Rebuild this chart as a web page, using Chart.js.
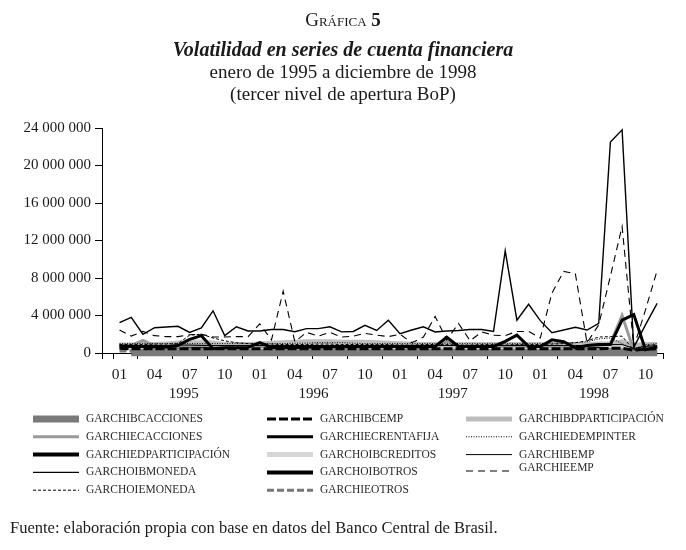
<!DOCTYPE html>
<html>
<head>
<meta charset="utf-8">
<script src="https://cdn.jsdelivr.net/npm/chart.js@4.4.1/dist/chart.umd.min.js"></script>
<style>
  body { margin: 0; background: #fff; font-family: "Liberation Serif", serif; color: #1a1a1a; }
  #wrap { position: relative; width: 686px; height: 550px; }
  canvas { position: absolute; left: 0; top: 0; }
  .t { position: absolute; left: 0; width: 686px; text-align: center; line-height: 22px; white-space: nowrap; }
  #t1 { top: 9px; font-size: 19px; font-variant: small-caps; }
  #t2 { top: 38px; font-size: 20px; font-weight: bold; font-style: italic; }
  #t3 { top: 61px; font-size: 19px; }
  #t4 { top: 83px; font-size: 19px; }
  #fuente { position: absolute; left: 10px; top: 517px; font-size: 16.5px; line-height: 22px; white-space: nowrap; }
</style>
</head>
<body>
<div id="wrap">
  <canvas id="myChart" width="686" height="550"></canvas>
  <div class="t" id="t1">Gráfica <b>5</b></div>
  <div class="t" id="t2">Volatilidad en series de cuenta financiera</div>
  <div class="t" id="t3">enero de 1995 a diciembre de 1998</div>
  <div class="t" id="t4">(tercer nivel de apertura BoP)</div>
  <div id="fuente">Fuente: elaboración propia con base en datos del Banco Central de Brasil.</div>
</div>
<script>
// meses, enero 1995 - noviembre 1998
var periodos = [
  '1995-01','1995-02','1995-03','1995-04','1995-05','1995-06','1995-07','1995-08','1995-09','1995-10','1995-11','1995-12',
  '1996-01','1996-02','1996-03','1996-04','1996-05','1996-06','1996-07','1996-08','1996-09','1996-10','1996-11','1996-12',
  '1997-01','1997-02','1997-03','1997-04','1997-05','1997-06','1997-07','1997-08','1997-09','1997-10','1997-11','1997-12',
  '1998-01','1998-02','1998-03','1998-04','1998-05','1998-06','1998-07','1998-08','1998-09','1998-10','1998-11'
];
var anios = ['1995', '1996', '1997', '1998'];
var posAnios = [5.5, 16.6, 28.5, 40.6];

// valores en millones
var garchibcacciones = [null,0.02,0.02,0.02,0.02,0.02,0.02,0.02,0.02,0.02,0.02,0.02,
  0.02,0.02,0.02,0.02,0.02,0.02,0.02,0.02,0.02,0.02,0.02,0.02,
  0.02,0.02,0.02,0.02,0.02,0.02,0.02,0.02,0.02,0.02,0.02,0.02,
  0.02,0.02,0.02,0.02,0.02,0.02,0.02,0.02,0.02,0.02,0.02];
var garchiecacciones = [0.7,0.8,1.35,0.75,0.7,0.7,0.75,0.8,0.7,0.7,0.7,0.7,
  0.7,0.7,0.7,0.7,0.7,0.7,0.7,0.7,0.7,0.7,0.7,0.7,
  0.7,0.7,0.7,0.75,1.35,0.7,0.7,0.7,0.7,0.7,0.8,0.7,
  0.7,0.7,0.7,0.7,0.7,0.8,1.0,4.0,0.3,0.6,0.7];
var garchiedparticipacion = [0.7,0.7,0.7,0.7,0.7,0.7,0.7,0.7,0.7,0.7,0.7,0.7,
  0.7,0.7,0.7,0.7,0.7,0.7,0.7,0.7,0.7,0.7,0.7,0.7,
  0.7,0.7,0.7,0.7,0.7,0.7,0.7,0.7,0.7,0.7,0.7,0.7,
  0.7,0.7,0.7,0.7,0.7,0.7,0.7,0.7,0.3,0.6,0.7];
var garchoibmoneda = [3.25,3.8,2.0,2.7,2.77,2.85,2.2,2.67,4.5,1.85,2.8,2.35,
  2.35,2.5,2.5,2.27,2.6,2.6,2.8,2.25,2.3,2.95,2.4,3.5,
  2.05,2.45,2.8,2.24,2.35,2.4,2.5,2.5,2.3,10.9,3.5,5.2,
  3.45,2.17,2.45,2.74,2.45,3.17,22.5,23.8,0.6,3.0,5.3];
var garchoiemoneda = [0.9,0.9,0.9,0.95,0.95,1.0,1.9,2.0,1.6,1.3,1.1,1.0,
  0.95,0.95,0.9,0.9,0.9,0.95,0.95,0.9,0.9,0.9,0.9,0.9,
  0.85,0.85,0.9,0.9,0.9,0.85,0.85,0.9,0.9,0.85,0.9,0.9,
  0.9,0.95,1.0,1.1,1.3,1.7,1.75,1.8,0.3,0.8,0.9];
var garchibcemp = [0.5,0.45,0.45,0.45,0.45,0.45,0.45,0.45,0.45,0.45,0.45,0.45,
  0.45,0.45,0.45,0.45,0.45,0.45,0.45,0.45,0.45,0.45,0.45,0.45,
  0.45,0.45,0.45,0.45,0.45,0.45,0.45,0.45,0.45,0.45,0.45,0.45,
  0.45,0.45,0.45,0.45,0.45,0.45,0.5,0.5,0.3,0.4,0.45];
var garchiecrentafija = [0.75,0.7,0.7,0.65,0.65,0.8,1.45,1.85,0.45,0.55,0.55,0.6,
  1.1,0.6,0.6,0.6,0.65,0.65,0.7,0.7,0.7,0.7,0.7,0.7,
  0.7,0.65,0.65,0.7,1.7,0.7,0.7,0.7,0.7,1.25,1.9,0.7,
  0.7,1.4,1.2,0.55,0.8,0.9,0.9,3.5,4.1,0.35,0.65];
var garchoibcreditos = [0.6,0.6,0.65,0.7,0.9,1.1,1.25,1.2,1.1,0.9,0.8,0.75,
  0.7,0.7,0.75,0.8,0.8,0.8,0.8,0.8,0.8,0.75,0.75,0.7,
  0.7,0.7,0.7,0.7,0.75,0.7,0.7,0.7,0.7,0.7,0.75,0.7,
  0.7,0.7,0.75,0.8,0.9,0.9,0.8,0.75,0.7,0.8,0.8];
var garchoibotros = [null,0.03,0.03,0.03,0.03,0.03,0.03,0.03,0.03,0.03,0.03,0.03,
  0.03,0.03,0.03,0.03,0.03,0.03,0.03,0.03,0.03,0.03,0.03,0.03,
  0.03,0.03,0.03,0.03,0.03,0.03,0.03,0.03,0.03,0.03,0.03,0.03,
  0.03,0.03,0.03,0.03,0.03,0.03,0.03,0.03,0.03,0.03,0.03];
var garchieotros = [0.22,0.22,0.22,0.22,0.22,0.22,0.22,0.22,0.22,0.22,0.22,0.22,
  0.22,0.22,0.22,0.22,0.22,0.22,0.22,0.22,0.22,0.22,0.22,0.22,
  0.22,0.22,0.22,0.22,0.22,0.22,0.22,0.22,0.22,0.22,0.22,0.22,
  0.22,0.22,0.22,0.22,0.22,0.22,0.22,0.22,0.22,0.22,0.22];
var garchibdparticipacion = [0.85,0.85,0.9,0.9,0.95,1.0,1.05,1.0,0.95,0.9,0.9,0.9,
  0.95,1.05,1.1,1.15,1.2,1.2,1.2,1.15,1.15,1.15,1.1,1.05,
  1.0,0.95,0.9,0.9,0.9,0.9,0.9,0.9,0.9,0.9,0.9,0.9,
  0.9,0.9,0.9,0.9,0.9,0.95,1.0,1.2,0.8,0.9,0.9];
var garchiedempinter = [1.0,1.0,1.0,1.0,1.0,1.05,1.0,1.0,1.0,1.0,1.0,1.0,
  1.0,1.0,1.0,1.05,1.05,1.1,1.1,1.1,1.05,1.0,1.0,1.0,
  1.0,1.0,1.0,1.0,1.05,1.0,1.0,1.0,1.0,1.0,1.0,1.0,
  1.0,1.05,1.05,1.1,1.2,1.5,1.6,1.0,0.4,0.9,1.0];
var garchibemp = [0.8,0.8,0.8,0.8,0.8,0.85,0.85,0.8,0.8,0.8,0.8,0.8,
  0.8,0.8,0.8,0.8,0.8,0.8,0.8,0.8,0.8,0.8,0.8,0.8,
  0.8,0.8,0.8,0.8,0.8,0.8,0.8,0.8,0.8,0.8,0.8,0.8,
  0.8,0.8,0.8,0.8,0.8,0.85,0.9,0.9,0.5,0.7,0.8];
var garchieemp = [2.45,1.8,2.3,1.85,1.75,1.75,1.95,2.0,1.7,1.7,1.75,1.75,
  3.1,1.4,6.6,1.2,2.2,1.8,2.2,1.7,1.8,2.1,1.9,1.75,
  2.0,1.1,1.7,3.9,1.4,3.15,1.3,2.25,1.9,1.85,2.3,2.3,
  1.6,6.4,8.7,8.45,1.1,3.0,8.2,13.5,0.6,4.6,8.8];

// estilos, en el orden de la leyenda (por columnas)
var series = [
  { label: 'GARCHIBCACCIONES',      data: garchibcacciones,      color: '#7a7a7a', width: 7,   dash: [],     order: 8,  col: 0, row: 0 },
  { label: 'GARCHIECACCIONES',      data: garchiecacciones,      color: '#9a9a9a', width: 3,   dash: [],     order: 6,  col: 0, row: 1 },
  { label: 'GARCHIEDPARTICIPACIÓN', data: garchiedparticipacion, color: '#000',    width: 4,   dash: [],     order: 13, col: 0, row: 2 },
  { label: 'GARCHOIBMONEDA',        data: garchoibmoneda,        color: '#000',    width: 1.4, dash: [],     order: 0,  col: 0, row: 3 },
  { label: 'GARCHOIEMONEDA',        data: garchoiemoneda,        color: '#000',    width: 1,   dash: [3, 2], order: 2,  col: 0, row: 4 },
  { label: 'GARCHIBCEMP',           data: garchibcemp,           color: '#000',    width: 3,   dash: [9, 3], order: 5,  col: 1, row: 0 },
  { label: 'GARCHIECRENTAFIJA',     data: garchiecrentafija,     color: '#000',    width: 3,   dash: [],     order: 4,  col: 1, row: 1 },
  { label: 'GARCHOIBCREDITOS',      data: garchoibcreditos,      color: '#d6d6d6', width: 5,   dash: [],     order: 11, col: 1, row: 2 },
  { label: 'GARCHOIBOTROS',         data: garchoibotros,         color: '#000',    width: 4,   dash: [],     order: 12, col: 1, row: 3 },
  { label: 'GARCHIEOTROS',          data: garchieotros,          color: '#777',    width: 3,   dash: [7, 3], order: 9,  col: 1, row: 4 },
  { label: 'GARCHIBDPARTICIPACIÓN', data: garchibdparticipacion, color: '#bdbdbd', width: 5,   dash: [],     order: 10, col: 2, row: 0 },
  { label: 'GARCHIEDEMPINTER',      data: garchiedempinter,      color: '#000',    width: 1,   dash: [1, 1.5], order: 3, col: 2, row: 1 },
  { label: 'GARCHIBEMP',            data: garchibemp,            color: '#000',    width: 1,   dash: [],     order: 3,  col: 2, row: 2 },
  { label: 'GARCHIEEMP',            data: garchieemp,            color: '#000',    width: 1.1, dash: [7, 5], order: 1,  col: 2, row: 2.75 }
];

var datasets = series.map(function (s) {
  return {
    label: s.label,
    data: s.data.map(function (v, i) { return { x: i, y: v }; }),
    borderColor: s.color,
    borderWidth: s.width,
    borderDash: s.dash,
    order: s.order,
    clip: 10,
    pointRadius: 0,
    tension: 0,
    fill: false
  };
});

var fmt = function (v) {
  return String(Math.round(v * 1000000)).replace(/\B(?=(\d{3})+(?!\d))/g, ' ');
};

var leyenda = {
  id: 'leyenda',
  afterDraw: function (chart) {
    var ctx = chart.ctx;
    var colX = [33, 267, 466];
    ctx.save();
    series.forEach(function (s) {
      var x = colX[s.col];
      var y = 419 + s.row * 17.8;
      var ly = s.label === 'GARCHIEEMP' ? y + 3 : y;
      ctx.beginPath();
      ctx.strokeStyle = s.color;
      ctx.lineWidth = s.width;
      ctx.setLineDash(s.dash);
      ctx.moveTo(x, ly);
      ctx.lineTo(x + 46, ly);
      ctx.stroke();
      ctx.setLineDash([]);
      ctx.fillStyle = '#2a2a2a';
      ctx.font = '11.5px "Liberation Serif"';
      ctx.textBaseline = 'middle';
      ctx.textAlign = 'left';
      ctx.fillText(s.label, x + 53, y);
    });
    // años bajo los meses
    var xs = chart.scales.x;
    ctx.fillStyle = '#1a1a1a';
    ctx.font = '15px "Liberation Serif"';
    ctx.textAlign = 'center';
    anios.forEach(function (a, i) {
      ctx.fillText(a, xs.getPixelForValue(posAnios[i]), 394);
    });
    ctx.restore();
  }
};

Chart.defaults.font.family = '"Liberation Serif", serif';
Chart.defaults.color = '#1a1a1a';

var ctx = document.getElementById('myChart').getContext('2d');
var chart = new Chart(ctx, {
  type: 'line',
  data: { datasets: datasets },
  options: {
    responsive: false,
    animation: false,
    layout: { padding: { top: 128, right: 23, bottom: 157, left: 0 } },
    plugins: { legend: { display: false }, tooltip: { enabled: false } },
    scales: {
      x: {
        type: 'linear',
        min: -1.5,
        max: 46.5,
        afterBuildTicks: function (scale) {
          var vals = [-1.5, -0.5];
          for (var b = 1.5; b <= 46.5; b += 3) vals.push(b);
          for (var m = 0; m < periodos.length; m += 3) vals.push(m);
          vals.sort(function (a, b) { return a - b; });
          scale.ticks = vals.map(function (v) { return { value: v }; });
        },
        afterFit: function (scale) { scale.height = 40; },
        ticks: {
          autoSkip: false,
          maxRotation: 0,
          padding: 7,
          font: { size: 15.5 },
          callback: function (v) {
            return Number.isInteger(v) && v % 3 === 0 ? periodos[v].slice(5) : '';
          }
        },
        grid: {
          drawOnChartArea: false,
          tickLength: 6,
          tickWidth: 1,
          tickColor: function (c) {
            return (c.tick && Number.isInteger(c.tick.value)) ? 'rgba(0,0,0,0)' : '#000';
          }
        },
        border: { color: '#000', width: 1 }
      },
      y: {
        min: 0,
        max: 24,
        afterFit: function (scale) { scale.width = 102; },
        ticks: {
          stepSize: 4,
          padding: 4,
          font: { size: 15 },
          callback: function (v) { return fmt(v); }
        },
        grid: { drawOnChartArea: false, tickLength: 7, tickColor: '#000' },
        border: { color: '#000', width: 1 }
      }
    }
  },
  plugins: [leyenda]
});
</script>
</body>
</html>
